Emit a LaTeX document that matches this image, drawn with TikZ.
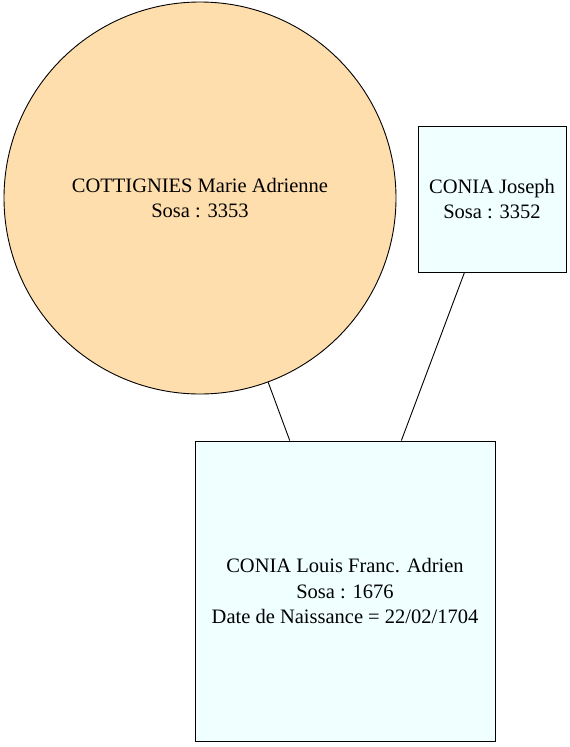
\documentclass[tikz,border=0pt]{standalone}
\usepackage{fontspec}
\setmainfont{Liberation Serif}
\definecolor{navajo}{HTML}{FFDEAD}
\definecolor{azurefill}{HTML}{F0FFFF}
\begin{document}
\begin{tikzpicture}[x=1pt,y=-1pt,
  person/.style={draw=black, line width=0.9pt, align=center, inner sep=0pt,
    font=\fontsize{20.5}{25.5}\selectfont},
  roundperson/.style={person, circle, fill=navajo, minimum size=392pt},
  boxperson/.style={person, rectangle, fill=azurefill},
  link/.style={draw=black, line width=0.9pt}]
\useasboundingbox (0,0) rectangle (570,747);
\node[roundperson] (cott) at (200,198) {COTTIGNIES Marie Adrienne\\Sosa : 3353};
\node[boxperson, minimum width=148pt, minimum height=146pt] (joseph) at (492,199) {CONIA Joseph\\Sosa : 3352};
\node[boxperson, minimum width=300pt, minimum height=300pt] (louis) at (345,591) {CONIA Louis Franc. Adrien\\Sosa : 1676\\Date de Naissance = 22/02/1704};
\draw[link] (cott) -- (louis);
\draw[link] (joseph) -- (louis);
\end{tikzpicture}
\end{document}
